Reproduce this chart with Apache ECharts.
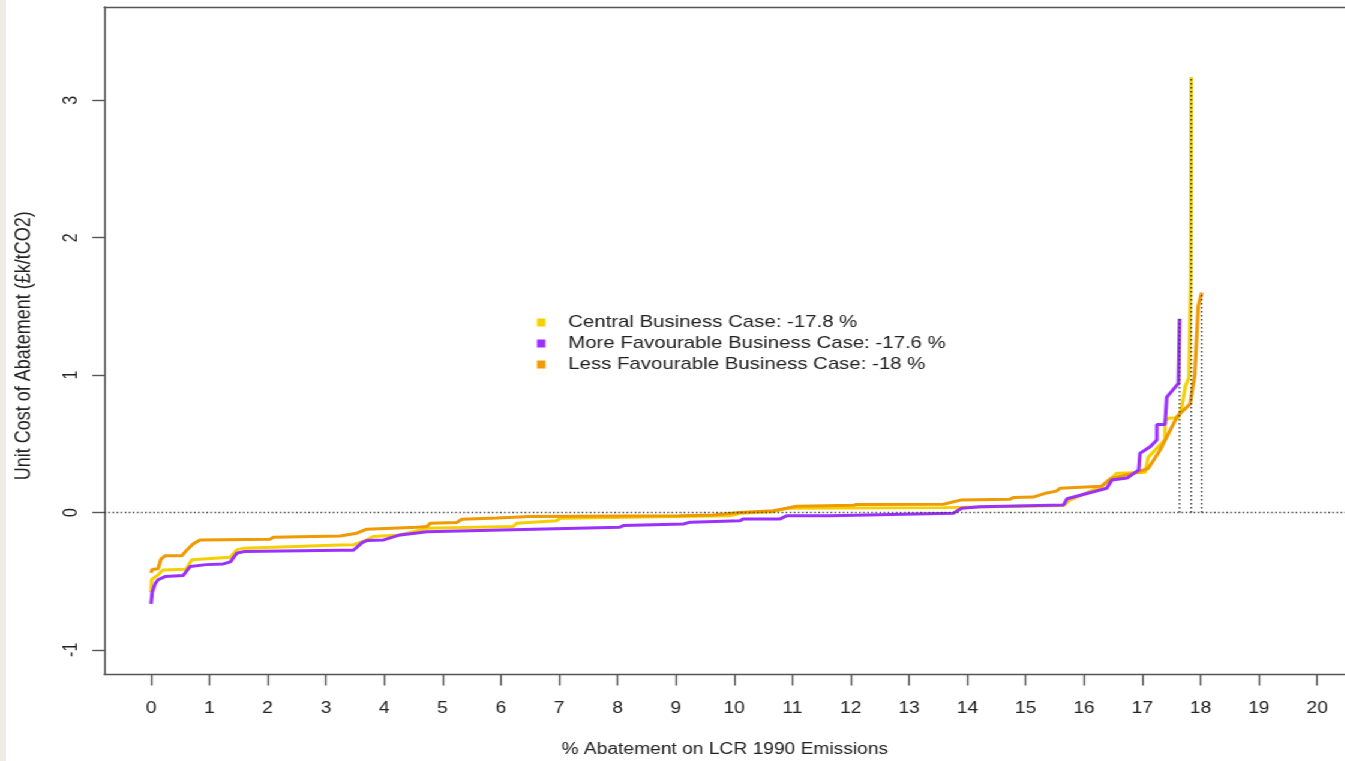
<!DOCTYPE html>
<html><head><meta charset="utf-8">
<script src="https://cdn.jsdelivr.net/npm/echarts@6/dist/echarts.min.js"></script>
<style>
html,body{margin:0;padding:0;background:#efebe5;width:1345px;height:761px;overflow:hidden}
#c{position:absolute;left:6px;top:0;width:1115.833px;height:761px;background:#fff;transform:scaleX(1.2);transform-origin:0 0}
</style></head><body><div id="c"></div>
<script>
const xTicks = [0,1,2,3,4,5,6,7,8,9,10,11,12,13,14,15,16,17,18,19,20];
const yTicks = [-1,0,1,2,3];
const seriesNames = ['Central Business Case: -17.8 %','More Favourable Business Case: -17.6 %','Less Favourable Business Case: -18 %'];
const central = [[0,-0.58],[0.01,-0.49],[0.12,-0.455],[0.2,-0.42],[0.6,-0.413],[0.7,-0.345],[1.36,-0.326],[1.47,-0.273],[1.59,-0.26],[3.24,-0.238],[3.47,-0.236],[3.70,-0.20],[3.81,-0.176],[4.27,-0.164],[4.61,-0.13],[4.73,-0.115],[6.21,-0.103],[6.27,-0.079],[6.96,-0.06],[7.02,-0.042],[9.93,-0.025],[10.1,-0.006],[10.67,0.005],[10.9,0.03],[13.59,0.035],[14.2,0.04],[15.65,0.05],[15.76,0.09],[16.3,0.19],[16.45,0.24],[16.56,0.285],[17.05,0.29],[17.1,0.40],[17.39,0.53],[17.39,0.67],[17.45,0.685],[17.62,0.69],[17.68,0.77],[17.74,0.92],[17.8,0.98],[17.83,1.7],[17.84,3.17]];
const moreFav = [[0,-0.665],[0.02,-0.58],[0.07,-0.52],[0.12,-0.49],[0.24,-0.467],[0.55,-0.46],[0.67,-0.394],[0.95,-0.38],[1.24,-0.375],[1.36,-0.36],[1.47,-0.297],[1.59,-0.285],[3.24,-0.275],[3.47,-0.275],[3.62,-0.22],[3.70,-0.205],[3.99,-0.20],[4.27,-0.164],[4.56,-0.15],[4.73,-0.14],[8.04,-0.108],[8.1,-0.096],[9.13,-0.084],[9.25,-0.071],[10.1,-0.06],[10.16,-0.047],[10.79,-0.047],[10.9,-0.025],[11.65,-0.025],[13.76,-0.006],[13.9,0.03],[14.22,0.042],[15.65,0.055],[15.71,0.10],[16.39,0.176],[16.48,0.236],[16.74,0.25],[16.94,0.31],[16.96,0.43],[17.14,0.48],[17.25,0.527],[17.25,0.64],[17.39,0.64],[17.42,0.84],[17.62,0.94],[17.64,1.41]];
const lessFav = [[0,-0.44],[0.02,-0.415],[0.12,-0.41],[0.17,-0.34],[0.24,-0.315],[0.53,-0.315],[0.6,-0.28],[0.72,-0.23],[0.84,-0.20],[2.04,-0.195],[2.1,-0.18],[3.24,-0.171],[3.53,-0.151],[3.70,-0.122],[4.56,-0.108],[4.73,-0.103],[4.79,-0.079],[5.24,-0.074],[5.33,-0.05],[5.93,-0.04],[6.5,-0.03],[9.07,-0.025],[9.65,-0.018],[10.1,-0.001],[10.67,0.013],[10.9,0.03],[11.07,0.045],[12.05,0.052],[12.1,0.058],[13.59,0.06],[13.88,0.09],[14.73,0.096],[14.79,0.108],[15.13,0.112],[15.36,0.142],[15.53,0.155],[15.59,0.176],[16.3,0.19],[16.45,0.245],[16.85,0.285],[17.1,0.32],[17.3,0.45],[17.6,0.70],[17.82,0.79],[17.9,1.0],[17.96,1.5],[18.02,1.6]];
const endX = [17.64, 17.84, 18.02];
const endY = [1.41, 3.17, 1.6];
const xRange = [-0.8, 20.48];
const yRange = [-1.18, 3.68];

const colors = ['#F5D000','#9B30FF','#EE9A00'];
const font = 'Liberation Sans, Arial, sans-serif';
const chart = echarts.init(document.getElementById('c'));
const dottedH = {color:'#333', width:1.5, type:[1.2,2.2]};
const dottedV = {color:'#333', width:1.3, type:[1.5,2.5]};
const frame = {show:true, onZero:false, lineStyle:{color:'#555', width:1.4}};
const series = [
  {name:seriesNames[0], type:'line', data:central, color:colors[0], showSymbol:false, lineStyle:{width:3,color:colors[0]}, z:2},
  {name:seriesNames[2], type:'line', data:lessFav, color:colors[2], showSymbol:false, lineStyle:{width:3,color:colors[2]}, z:3},
  {name:seriesNames[1], type:'line', data:moreFav, color:colors[1], showSymbol:false, lineStyle:{width:3,color:colors[1]}, z:4},
  {type:'line', data:[[xRange[0],0],[xRange[1],0]], showSymbol:false, lineStyle:dottedH, z:5, silent:true}
];
endX.forEach((x,i)=>{
  series.push({type:'line', data:[[x,0],[x,endY[i]]], showSymbol:false, lineStyle:dottedV, z:6, silent:true});
});
chart.setOption({
  animation:false,
  backgroundColor:'#fff',
  grid:{left:82, top:7, bottom:86.5, right:0, show:false, outerBoundsMode:'none', containLabel:false},
  legend:{
    orient:'vertical', left:437.5, top:309, itemWidth:7, itemHeight:8, itemGap:4,
    icon:'rect', selectedMode:false,
    data:[
      {name:seriesNames[0], itemStyle:{color:colors[0]}},
      {name:seriesNames[1], itemStyle:{color:colors[1]}},
      {name:seriesNames[2], itemStyle:{color:colors[2]}}
    ],
    textStyle:{fontFamily:font, fontSize:17, color:'#222', padding:[0,0,0,14]}
  },
  xAxis:[{type:'value', min:xRange[0], max:xRange[1], position:'bottom',
    name:'% Abatement on LCR 1990 Emissions', nameLocation:'middle', nameGap:67,
    nameTextStyle:{fontFamily:font, fontSize:16, color:'#222'},
    axisLine:frame, splitLine:{show:false},
    axisTick:{show:true, inside:false, length:11, customValues:xTicks, lineStyle:{color:'#555', width:1.4}},
    axisLabel:{customValues:xTicks, margin:26.5, fontFamily:font, fontSize:16, color:'#222'}
  },{type:'value', min:xRange[0], max:xRange[1], position:'top',
    axisLine:frame, splitLine:{show:false}, axisTick:{show:false}, axisLabel:{show:false}
  }],
  yAxis:{type:'value', min:yRange[0], max:yRange[1],
    name:'Unit Cost of Abatement (£k/tCO2)', nameLocation:'middle', nameGap:58,
    nameTextStyle:{fontFamily:font, fontSize:18, color:'#222', padding:[0,10,0,0]},
    axisLine:frame, splitLine:{show:false},
    axisTick:{show:true, length:10, customValues:yTicks, lineStyle:{color:'#555', width:1.4}},
    axisLabel:{customValues:yTicks, rotate:90, margin:19, fontFamily:font, fontSize:16, color:'#222'}
  },
  series:series
});
</script></body></html>
